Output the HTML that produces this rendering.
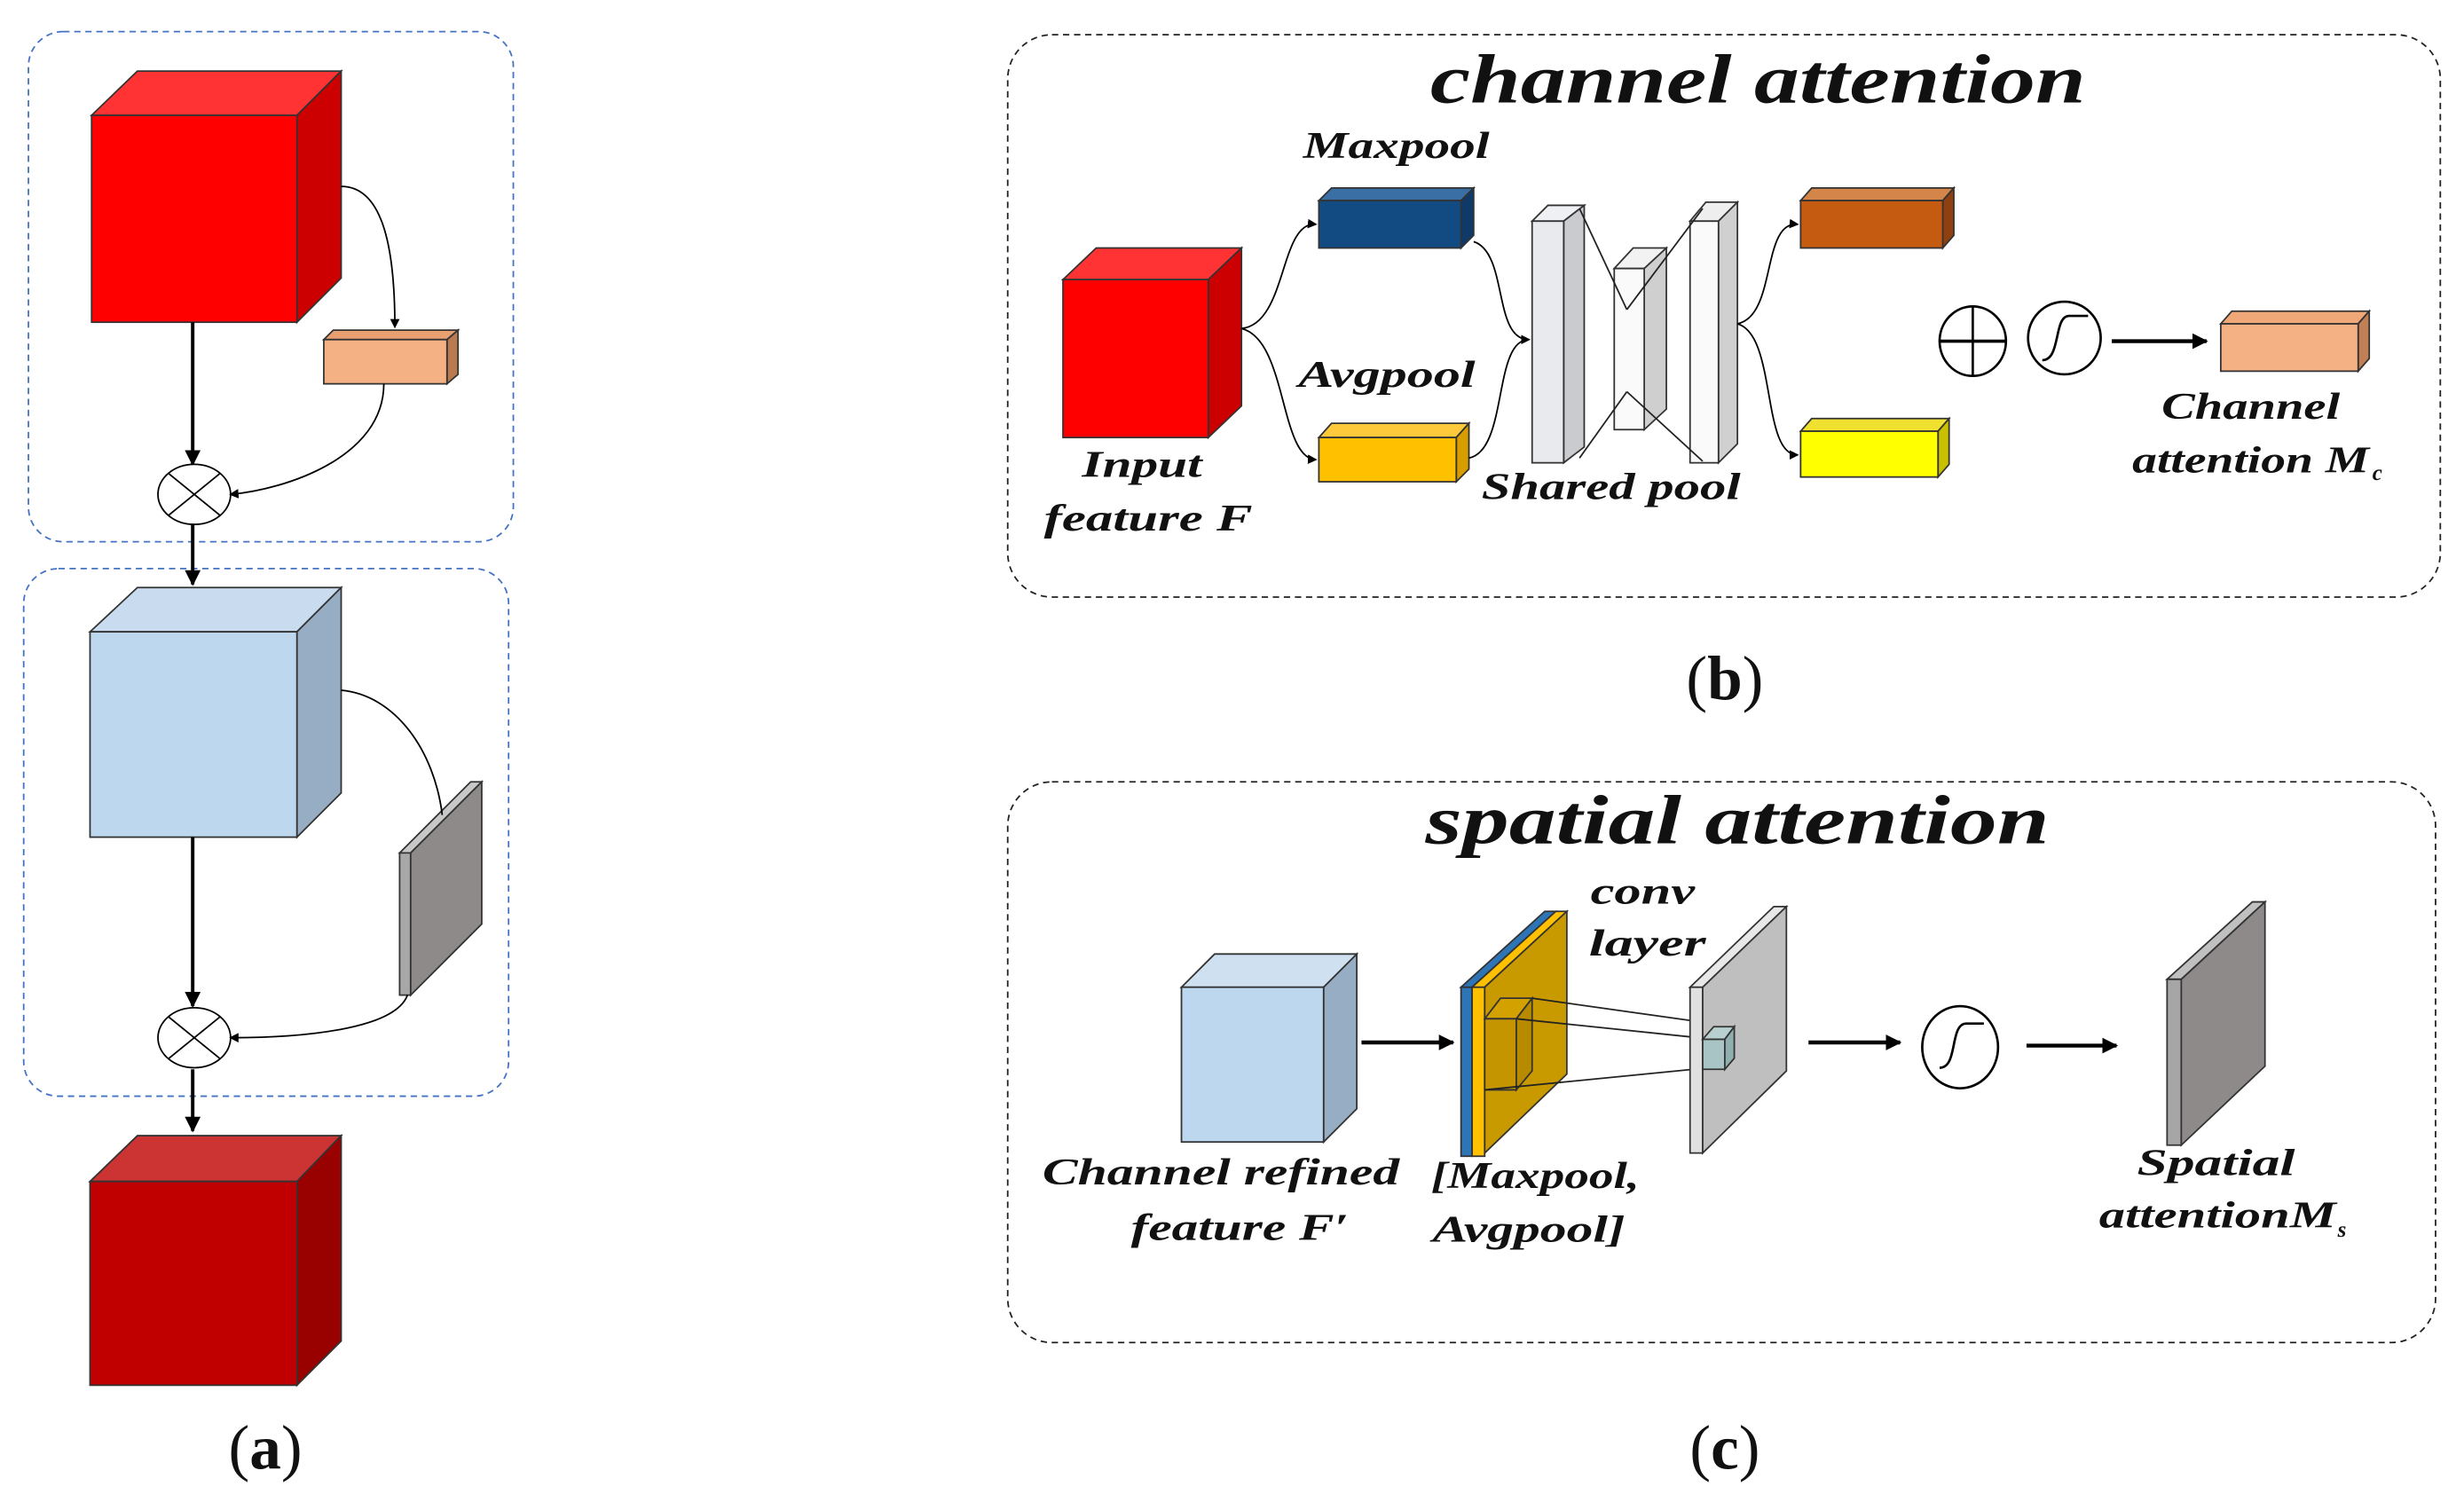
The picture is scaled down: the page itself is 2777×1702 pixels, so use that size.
<!DOCTYPE html>
<html><head><meta charset="utf-8"><style>
html,body{margin:0;padding:0;background:#fff;}
svg{display:block;}
text{font-family:"Liberation Serif",serif;font-weight:bold;font-style:italic;fill:#111;}
.lab{font-family:"Liberation Serif",serif;font-style:normal;font-weight:normal;}
</style></head><body>
<svg width="2777" height="1702" viewBox="0 0 1560 956" preserveAspectRatio="none" xmlns="http://www.w3.org/2000/svg">
<defs>
<marker id="ah" markerWidth="6" markerHeight="6" refX="5" refY="3" orient="auto" markerUnits="userSpaceOnUse"><path d="M0,0 L6,3 L0,6 z" fill="#000"/></marker>
<marker id="ab" markerWidth="10" markerHeight="10" refX="9" refY="5" orient="auto" markerUnits="userSpaceOnUse"><path d="M0,0 L10,5 L0,10 z" fill="#000"/></marker>
</defs>
<g stroke="#333" stroke-width="1">
<rect x="18" y="20" width="307" height="323" rx="22" fill="none" stroke="#4472c4" stroke-dasharray="4,3"/>
<rect x="15" y="360" width="307" height="334" rx="22" fill="none" stroke="#4472c4" stroke-dasharray="4,3"/>
<polygon points="58,73 87,45 216,45 188,73" fill="#ff3333"/>
<polygon points="188,73 216,45 216,176 188,204" fill="#cc0000"/>
<rect x="58" y="73" width="130" height="131" fill="#ff0000"/>
<polygon points="205,215 211,209 290,209 283,215" fill="#e8a070"/>
<polygon points="283,215 290,209 290,237 283,243" fill="#b97a50"/>
<rect x="205" y="215" width="78" height="28" fill="#f4b183"/>
<path d="M216,118 C240,118 250,150 250,207" fill="none" stroke="#000" marker-end="url(#ah)"/>
<line x1="122" y1="204" x2="122" y2="294" stroke="#000" stroke-width="2.2" marker-end="url(#ab)"/>
<ellipse cx="123" cy="313" rx="23" ry="19" fill="#fff" stroke="#000"/>
<line x1="107" y1="300" x2="139" y2="326" stroke="#000"/><line x1="139" y1="300" x2="107" y2="326" stroke="#000"/>
<path d="M243,243 C243,290 180,310 146,313" fill="none" stroke="#000" marker-end="url(#ah)"/>
<line x1="122" y1="332" x2="122" y2="370" stroke="#000" stroke-width="2.2" marker-end="url(#ab)"/>
<polygon points="57,400 87,372 216,372 188,400" fill="#c9dcef"/>
<polygon points="188,400 216,372 216,502 188,530" fill="#97adc4"/>
<rect x="57" y="400" width="131" height="130" fill="#bdd7ee"/>
<polygon points="253,540 298,495 305,495 260,540" fill="#c8c8c8"/>
<polygon points="253,540 260,540 260,630 253,630" fill="#a8a8a8"/>
<polygon points="260,540 305,495 305,585 260,630" fill="#8e8a8a"/>
<path d="M216,437 C250,440 275,475 280,516" fill="none" stroke="#000"/>
<line x1="122" y1="530" x2="122" y2="637" stroke="#000" stroke-width="2.2" marker-end="url(#ab)"/>
<ellipse cx="123" cy="657" rx="23" ry="19" fill="#fff" stroke="#000"/>
<line x1="107" y1="644" x2="139" y2="670" stroke="#000"/><line x1="139" y1="644" x2="107" y2="670" stroke="#000"/>
<path d="M258,630 C250,652 190,657 146,657" fill="none" stroke="#000" marker-end="url(#ah)"/>
<line x1="122" y1="677" x2="122" y2="716" stroke="#000" stroke-width="2.2" marker-end="url(#ab)"/>
<polygon points="57,748 87,719 216,719 188,748" fill="#cc3333"/>
<polygon points="188,748 216,719 216,849 188,877" fill="#990000"/>
<rect x="57" y="748" width="131" height="129" fill="#c00000"/>

<rect x="638" y="22" width="907" height="356" rx="28" fill="none" stroke="#222" stroke-dasharray="4,3"/>
<polygon points="673,177 694,157 786,157 765,177" fill="#ff3333"/>
<polygon points="765,177 786,157 786,257 765,277" fill="#cc0000"/>
<rect x="673" y="177" width="92" height="100" fill="#ff0000"/>
<polygon points="835,127 843,119 933,119 925,127" fill="#3a6fa5"/>
<polygon points="925,127 933,119 933,149 925,157" fill="#0f3a68"/>
<rect x="835" y="127" width="90" height="30" fill="#124b82"/>
<polygon points="835,277 843,268 930,268 922,277" fill="#ffc93c"/>
<polygon points="922,277 930,268 930,297 922,305" fill="#d89d00"/>
<rect x="835" y="277" width="87" height="28" fill="#ffc000"/>
<path d="M786,208 C815,205 810,140 833,142" fill="none" stroke="#000" marker-end="url(#ah)"/>
<path d="M786,208 C815,215 810,290 833,291" fill="none" stroke="#000" marker-end="url(#ah)"/>
<path d="M933,153 C955,160 945,215 968,215" fill="none" stroke="#000" marker-end="url(#ah)"/>
<path d="M930,290 C955,285 945,215 968,215" fill="none" stroke="#000"/>
<polygon points="970,140 980,130 1003,130 990,140" fill="#eef0f4"/>
<polygon points="990,140 1003,130 1003,283 990,293" fill="#c9cbce"/>
<rect x="970" y="140" width="20" height="153" fill="#e8eaee"/>
<polygon points="1022,170 1034,157 1055,157 1041,170" fill="#f2f2f2"/>
<polygon points="1041,170 1055,157 1055,259 1041,272" fill="#cfcfcf"/>
<rect x="1022" y="170" width="19" height="102" fill="#fafafa"/>
<polygon points="1070,140 1080,128 1100,128 1088,140" fill="#eeeeee"/>
<polygon points="1088,140 1100,128 1100,281 1088,293" fill="#d0d0d0"/>
<rect x="1070" y="140" width="18" height="153" fill="#fafafa"/>
<g stroke="#222"><line x1="1000" y1="132" x2="1030" y2="196"/><line x1="1030" y1="196" x2="1078" y2="132"/><line x1="1000" y1="290" x2="1030" y2="248"/><line x1="1030" y1="248" x2="1078" y2="292"/></g>
<path d="M1100,205 C1125,200 1115,140 1138,142" fill="none" stroke="#000" marker-end="url(#ah)"/>
<path d="M1100,205 C1125,212 1115,288 1138,288" fill="none" stroke="#000" marker-end="url(#ah)"/>
<polygon points="1140,127 1147,119 1237,119 1230,127" fill="#d4864a"/>
<polygon points="1230,127 1237,119 1237,149 1230,157" fill="#8f4010"/>
<rect x="1140" y="127" width="90" height="30" fill="#c55a11"/>
<polygon points="1140,273 1147,265 1234,265 1227,273" fill="#f0e030"/>
<polygon points="1227,273 1234,265 1234,294 1227,302" fill="#c8c000"/>
<rect x="1140" y="273" width="87" height="29" fill="#ffff00"/>
<ellipse cx="1249" cy="216" rx="21" ry="22" fill="#fff" stroke="#000" stroke-width="1.5"/>
<line x1="1228" y1="216" x2="1270" y2="216" stroke="#000" stroke-width="2"/><line x1="1249" y1="194" x2="1249" y2="238" stroke="#000" stroke-width="1.5"/>
<ellipse cx="1307" cy="214" rx="23" ry="23" fill="#fff" stroke="#000" stroke-width="1.5"/>
<path d="M1293,228 C1305,228 1300,200 1310,200 L1322,200" fill="none" stroke="#000" stroke-width="1.5"/>
<line x1="1337" y1="216" x2="1397" y2="216" stroke="#000" stroke-width="2.5" marker-end="url(#ab)"/>
<polygon points="1406,205 1413,197 1500,197 1493,205" fill="#f0a878"/>
<polygon points="1493,205 1500,197 1500,227 1493,235" fill="#c07f55"/>
<rect x="1406" y="205" width="87" height="30" fill="#f4b183"/>

<rect x="638" y="495" width="904" height="355" rx="28" fill="none" stroke="#222" stroke-dasharray="4,3"/>
<polygon points="748,625 769,604 859,604 838,625" fill="#cfe0f1"/>
<polygon points="838,625 859,604 859,702 838,723" fill="#97adc4"/>
<rect x="748" y="625" width="90" height="98" fill="#bdd7ee"/>
<line x1="862" y1="660" x2="920" y2="660" stroke="#000" stroke-width="2.5" marker-end="url(#ab)"/>
<polygon points="925,625 978,577 985,577 932,625" fill="#2e75b6"/>
<polygon points="925,625 932,625 932,732 925,732" fill="#2e75b6"/>
<polygon points="932,625 985,577 992,577 940,625" fill="#ffc000"/>
<polygon points="932,625 940,625 940,732 932,732" fill="#ffc000"/>
<polygon points="940,625 992,577 992,680 940,730" fill="#c99a00"/>
<polygon points="940,645 950,632 970,632 960,645" fill="#d4a200"/>
<polygon points="940,645 960,645 960,690 940,690" fill="#c59500"/>
<polygon points="960,645 970,632 970,678 960,690" fill="#b88a00"/>
<line x1="970" y1="632" x2="1098" y2="650" stroke="#222"/>
<line x1="960" y1="645" x2="1085" y2="658" stroke="#222"/>
<line x1="940" y1="690" x2="1092" y2="675" stroke="#222"/>
<polygon points="1070,625 1123,574 1131,574 1078,625" fill="#e8e8e8"/>
<polygon points="1070,625 1078,625 1078,730 1070,730" fill="#e0e0e0"/>
<polygon points="1078,625 1131,574 1131,678 1078,730" fill="#bfbfbf"/>
<polygon points="1078,658 1085,650 1098,650 1092,658" fill="#b8d0d0"/>
<polygon points="1078,658 1092,658 1092,677 1078,677" fill="#a8c4c4"/>
<polygon points="1092,658 1098,650 1098,670 1092,677" fill="#90b0b0"/>
<line x1="1145" y1="660" x2="1203" y2="660" stroke="#000" stroke-width="2.5" marker-end="url(#ab)"/>
<ellipse cx="1241" cy="663" rx="24" ry="26" fill="#fff" stroke="#000" stroke-width="1.5"/>
<path d="M1228,676 C1240,676 1234,648 1245,648 L1256,648" fill="none" stroke="#000" stroke-width="1.5"/>
<line x1="1283" y1="662" x2="1340" y2="662" stroke="#000" stroke-width="2.5" marker-end="url(#ab)"/>
<polygon points="1372,620 1426,571 1434,571 1381,620" fill="#c0c0c0"/>
<polygon points="1372,620 1381,620 1381,725 1372,725" fill="#a6a6a6"/>
<polygon points="1381,620 1434,571 1434,675 1381,725" fill="#8e8a8a"/>
</g>
<text x="1113" y="65" font-size="44" text-anchor="middle" textLength="415" lengthAdjust="spacingAndGlyphs">channel attention</text>
<text x="884" y="100" font-size="24" text-anchor="middle" textLength="118" lengthAdjust="spacingAndGlyphs">Maxpool</text>
<text x="878" y="245" font-size="24" text-anchor="middle" textLength="112" lengthAdjust="spacingAndGlyphs">Avgpool</text>
<text x="723" y="302" font-size="24" text-anchor="middle" textLength="76" lengthAdjust="spacingAndGlyphs">Input</text>
<text x="727" y="336" font-size="24" text-anchor="middle" textLength="132" lengthAdjust="spacingAndGlyphs">feature F</text>
<text x="1020" y="316" font-size="24" text-anchor="middle" textLength="164" lengthAdjust="spacingAndGlyphs">Shared pool</text>
<text x="1425" y="265" font-size="24" text-anchor="middle" textLength="113" lengthAdjust="spacingAndGlyphs">Channel</text>
<text x="1425" y="299" font-size="24" text-anchor="middle" textLength="150" lengthAdjust="spacingAndGlyphs">attention M</text>
<text x="1502" y="304" font-size="14">c</text>
<text class="lab" x="1092" y="443" font-size="40" text-anchor="middle">(<tspan font-weight="bold">b</tspan>)</text>

<text x="1100" y="534" font-size="44" text-anchor="middle" textLength="395" lengthAdjust="spacingAndGlyphs">spatial attention</text>
<text x="1040" y="572" font-size="24" text-anchor="middle" textLength="66" lengthAdjust="spacingAndGlyphs">conv</text>
<text x="1043" y="605" font-size="24" text-anchor="middle" textLength="74" lengthAdjust="spacingAndGlyphs">layer</text>
<text x="773" y="750" font-size="24" text-anchor="middle" textLength="226" lengthAdjust="spacingAndGlyphs">Channel refined</text>
<text x="785" y="785" font-size="24" text-anchor="middle" textLength="138" lengthAdjust="spacingAndGlyphs">feature F′</text>
<text x="972" y="752" font-size="24" text-anchor="middle" textLength="132" lengthAdjust="spacingAndGlyphs">[Maxpool,</text>
<text x="968" y="786" font-size="24" text-anchor="middle" textLength="122" lengthAdjust="spacingAndGlyphs">Avgpool]</text>
<text x="1403" y="744" font-size="24" text-anchor="middle" textLength="100" lengthAdjust="spacingAndGlyphs">Spatial</text>
<text x="1404" y="777" font-size="24" text-anchor="middle" textLength="150" lengthAdjust="spacingAndGlyphs">attentionM</text>
<text x="1480" y="783" font-size="14">s</text>
<text class="lab" x="1092" y="930" font-size="40" text-anchor="middle">(<tspan font-weight="bold">c</tspan>)</text>
<text class="lab" x="168" y="930" font-size="40" text-anchor="middle">(<tspan font-weight="bold">a</tspan>)</text>
</svg>
</body></html>
